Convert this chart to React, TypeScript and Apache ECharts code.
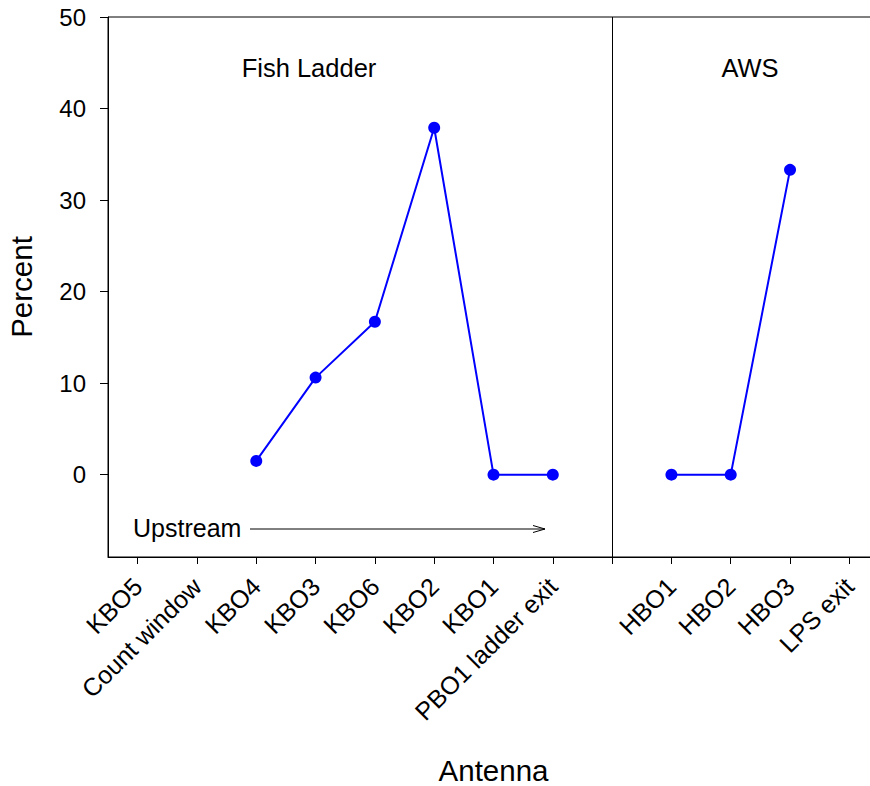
import React, { useEffect, useRef } from "react";
import * as echarts from "echarts";

const leftCategories = ["KBO5", "Count window", "KBO4", "KBO3", "KBO6", "KBO2", "KBO1", "PBO1 ladder exit"];
const rightCategories = ["HBO1", "HBO2", "HBO3", "LPS exit"];
const leftValues: (number | null)[] = [null, null, 1.5, 10.6, 16.7, 37.9, 0, 0];
const rightValues: (number | null)[] = [0, 0, 33.3, null];
const yTicks = [0, 10, 20, 30, 40, 50];

const FONT = "Liberation Sans, Arial, sans-serif";

export default function App() {
  const ref = useRef<HTMLDivElement>(null);
  useEffect(() => {
    document.body.style.margin = "0";
    if (!ref.current) return;
    const chart = echarts.init(ref.current, undefined, { renderer: "svg" });
    const categories = [...leftCategories, "", ...rightCategories];
    const values = [...leftValues, null, ...rightValues];
    chart.setOption({
      animation: false,
      backgroundColor: "#fff",
      textStyle: { fontFamily: FONT },
      grid: {
        left: 108,
        top: 17,
        bottom: 229,
        right: -9,
        show: true,
        borderColor: "#000",
        borderWidth: 1,
        containLabel: false,
        outerBoundsMode: "none",
      },
      xAxis: {
        type: "category",
        data: categories,
        boundaryGap: true,
        name: "Antenna",
        nameLocation: "middle",
        nameGap: 198,
        nameTextStyle: { fontSize: 29.5, color: "#000", fontFamily: FONT },
        axisLine: { show: true, onZero: false, lineStyle: { color: "#000", width: 1 } },
        axisTick: { show: true, alignWithLabel: true, interval: 0, length: 7, lineStyle: { color: "#000" } },
        axisLabel: { interval: 0, rotate: 45, fontSize: 25, color: "#000", margin: 25, fontFamily: FONT },
        splitLine: { show: false },
      },
      yAxis: {
        type: "value",
        min: -9,
        max: 50,
        name: "Percent",
        nameLocation: "middle",
        nameGap: 72,
        nameTextStyle: { fontSize: 29.5, color: "#000", fontFamily: FONT },
        axisLine: { show: true, lineStyle: { color: "#000", width: 1 } },
        axisTick: { show: true, length: 8, customValues: yTicks, lineStyle: { color: "#000" } },
        axisLabel: { fontSize: 24, color: "#000", margin: 22, customValues: yTicks, fontFamily: FONT },
        splitLine: { show: false },
      },
      graphic: [
        { type: "text", x: 309, y: 68, style: { text: "Fish Ladder", fontSize: 25.5, fill: "#000", align: "center", verticalAlign: "middle", fontFamily: FONT } },
        { type: "text", x: 750, y: 68, style: { text: "AWS", fontSize: 25.5, fill: "#000", align: "center", verticalAlign: "middle", fontFamily: FONT } },
        { type: "text", x: 133, y: 528, style: { text: "Upstream", fontSize: 25, fill: "#000", align: "left", verticalAlign: "middle", fontFamily: FONT } },
        { type: "line", shape: { x1: 250, y1: 529, x2: 545, y2: 529 }, style: { stroke: "#000", lineWidth: 1 } },
        { type: "polyline", shape: { points: [[533, 525.5], [545, 529], [533, 532.5]] }, style: { stroke: "#000", lineWidth: 1, fill: null } },
      ],
      series: [
        {
          type: "line",
          data: values,
          connectNulls: false,
          symbol: "circle",
          symbolSize: 12,
          itemStyle: { color: "#0000ff" },
          lineStyle: { color: "#0000ff", width: 2 },
          markLine: {
            silent: true,
            symbol: "none",
            label: { show: false },
            lineStyle: { color: "#000", width: 1, type: "solid" },
            data: [{ xAxis: 8 }],
          },
        },
      ],
    });
    return () => chart.dispose();
  }, []);
  return <div ref={ref} style={{ width: 870, height: 786 }} />;
}
